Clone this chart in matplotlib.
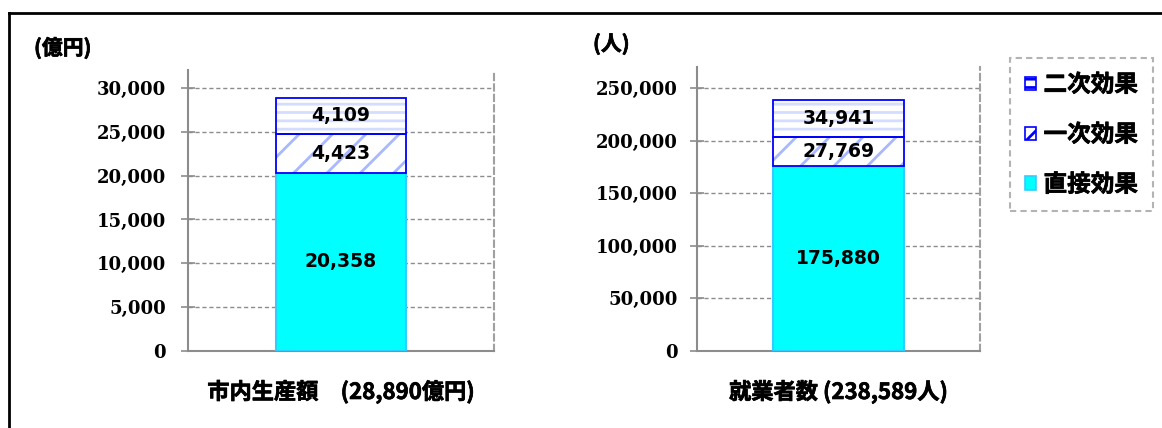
import matplotlib
matplotlib.use("Agg")
import matplotlib.pyplot as plt
from matplotlib.lines import Line2D
from matplotlib.patches import Patch
from matplotlib.ticker import FuncFormatter
import matplotlib.patheffects as pe

plt.rcParams['font.family'] = ['Noto Sans CJK JP', 'DejaVu Sans']
plt.rcParams['hatch.linewidth'] = 2.0

# ---- data ----
series_names = ["直接効果", "一次効果", "二次効果"]
prod_values = [20358, 4423, 4109]          # 億円
emp_values = [175880, 27769, 34941]        # 人
prod_label = "市内生産額　(28,890億円)"
emp_label = "就業者数 (238,589人)"
prod_unit = "(億円)"
emp_unit = "(人)"
prod_ticks = [0, 5000, 10000, 15000, 20000, 25000, 30000]
emp_ticks = [0, 50000, 100000, 150000, 200000, 250000]

W, H = 1162, 428
fig = plt.figure(figsize=(W / 100, H / 100), dpi=100)

CYAN = "#00FFFF"
CYAN_EDGE = "#33CCFF"
BLUE = "#0000FF"
HATCH1 = "#A8B8FF"
HATCH2 = "#D4DDFF"
GRAY = "#8C8C8C"

serif = ['DejaVu Serif']
lbl_font = ['DejaVu Sans']
BOLD = [pe.withStroke(linewidth=0.5, foreground="black")]


def draw_panel(rect, values, ticks, ymax, barw, unit, cat_label, unit_xy, pad):
    ax = fig.add_axes(rect)
    ax.set_xlim(-0.5, 0.5)
    ax.set_ylim(0, ymax)
    bottom = 0
    hatches = [None, '/', '--']
    hcolors = [None, HATCH1, HATCH2]
    for i, v in enumerate(values):
        if i == 0:
            ax.bar(0, v, bottom=bottom, width=barw, color=CYAN,
                   edgecolor=CYAN_EDGE, linewidth=1.5, zorder=3)
        else:
            ax.bar(0, v, bottom=bottom, width=barw, color="white",
                   edgecolor=hcolors[i], hatch=hatches[i], linewidth=0, zorder=3)
            ax.bar(0, v, bottom=bottom, width=barw, color="none",
                   edgecolor=BLUE, linewidth=1.3, zorder=4)
        ax.text(0, bottom + v / 2, f"{v:,}", ha="center", va="center",
                fontsize=13.5, fontweight="bold", family=lbl_font, zorder=5)
        bottom += v
    ax.set_yticks(ticks)
    ax.yaxis.set_major_formatter(FuncFormatter(lambda x, p: f"{int(x):,}"))
    ax.set_xticks([])
    for t in ax.get_yticklabels():
        t.set_fontfamily(serif)
        t.set_fontweight("bold")
        t.set_fontsize(13)
    ax.tick_params(axis='y', direction='inout', length=10, width=1.2,
                   color=GRAY, pad=pad)
    ax.grid(axis='y', linestyle=(0, (3, 2)), color=GRAY, linewidth=1, zorder=1)
    ax.set_axisbelow(True)
    for s in ("left", "bottom"):
        ax.spines[s].set_color(GRAY)
        ax.spines[s].set_linewidth(1.5)
    ax.spines["top"].set_visible(False)
    ax.spines["right"].set_color("#A0A0A0")
    ax.spines["right"].set_linestyle((0, (3, 2)))
    ax.spines["right"].set_linewidth(1.5)
    fig.text(unit_xy[0], unit_xy[1], unit, fontsize=15, fontweight="bold",
             ha="left", va="center", path_effects=BOLD)
    cx = rect[0] + rect[2] / 2
    fig.text(cx, 1 - 392 / H, cat_label, fontsize=16, fontweight="bold",
             ha="center", va="center", path_effects=BOLD)
    return ax


rect1 = [188 / W, 77 / H, 306 / W, 281 / H]
rect2 = [697 / W, 77 / H, 283 / W, 284 / H]
ax1 = draw_panel(rect1, prod_values, prod_ticks, 32050, 0.425,
                 prod_unit, prod_label, (34 / W, 1 - 48 / H), 11)
ax2 = draw_panel(rect2, emp_values, emp_ticks, 270000, 0.46,
                 emp_unit, emp_label, (593 / W, 1 - 44 / H), 9)

# legend
handles = [
    Patch(facecolor="white", edgecolor=BLUE, hatch='--', linewidth=1.2),
    Patch(facecolor="white", edgecolor=BLUE, hatch='/', linewidth=1.2),
    Patch(facecolor=CYAN, edgecolor=CYAN_EDGE, linewidth=1.2),
]
labels = [series_names[2], series_names[1], series_names[0]]
leg = fig.legend(handles, labels, loc="upper left",
                 bbox_to_anchor=(1010 / W, 1 - 58 / H),
                 prop={'family': ['Noto Sans CJK JP'], 'weight': 'bold', 'size': 17},
                 frameon=True, fancybox=False, handlelength=0.5, handleheight=0.5,
                 handletextpad=0.3, labelspacing=1.1, borderpad=0.62,
                 borderaxespad=0)
leg.get_frame().set_edgecolor("#A0A0A0")
leg.get_frame().set_linestyle((0, (3, 2)))
leg.get_frame().set_linewidth(1.5)
for t in leg.get_texts():
    t.set_path_effects(BOLD)

# figure border (left and top)
fig.add_artist(Line2D([9 / W, 9 / W], [0, 1 - 13 / H], color="black",
                      linewidth=2, transform=fig.transFigure))
fig.add_artist(Line2D([9 / W, 1], [1 - 13 / H, 1 - 13 / H], color="black",
                      linewidth=2, transform=fig.transFigure))

fig.savefig("out.png", dpi=100, facecolor="white")
